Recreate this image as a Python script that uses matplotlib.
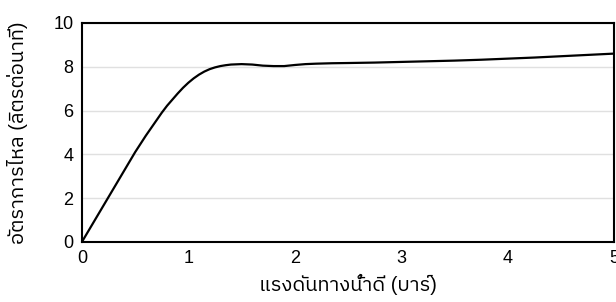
import numpy as np
import matplotlib.pyplot as plt
from matplotlib import font_manager

# pressure (bar) vs flow rate (litres per minute)
pressure = [0, 0.1, 0.2, 0.3, 0.4, 0.5, 0.6, 0.7, 0.75, 0.8, 0.85, 0.9, 0.95,
            1.0, 1.05, 1.1, 1.15, 1.2, 1.25, 1.3, 1.35, 1.4, 1.45, 1.5, 1.55,
            1.6, 1.7, 1.8, 1.9, 2.0, 2.1, 2.2, 2.35, 2.5, 2.75, 3.0,
            3.25, 3.5, 3.75, 4.0, 4.25, 4.5, 4.75, 5.0]
flow = [0, 0.82, 1.64, 2.46, 3.28, 4.1, 4.85, 5.55, 5.9, 6.22, 6.5, 6.78, 7.04,
        7.27, 7.47, 7.64, 7.78, 7.89, 7.97, 8.03, 8.07, 8.1, 8.11, 8.12, 8.11,
        8.1, 8.05, 8.03, 8.03, 8.08, 8.12, 8.14, 8.16, 8.17, 8.19, 8.22,
        8.25, 8.28, 8.32, 8.37, 8.42, 8.48, 8.54, 8.6]

xlabel = "แรงดันทางน้ำดี (บาร์)"
ylabel = "อัตราการไหล (ลิตรต่อนาที)"

# a family with Thai glyphs, used after Liberation Sans for the Thai text
thai = sorted(set(f.name for f in font_manager.fontManager.ttflist if "Thai" in f.name))
plt.rcParams['font.family'] = ['Liberation Sans'] + thai[:1] + ['DejaVu Sans']

fig = plt.figure(figsize=(6.16, 3.02), dpi=100)
ax = fig.add_axes([0.133, 0.199, 0.864, 0.725])
ax.plot(pressure, flow, color="black", lw=1.6)
ax.set_xlim(0, 5)
ax.set_ylim(0, 10)
ax.set_xticks(range(6))
ax.set_yticks(range(0, 11, 2))
ax.grid(axis="y", color="#e0e0e0", lw=1)
ax.set_axisbelow(True)
ax.tick_params(length=0, labelsize=13, pad=6)
for s in ax.spines.values():
    s.set_linewidth(1.5)
ax.set_xlabel(xlabel, fontsize=14.5, labelpad=5)
ax.set_ylabel(ylabel, fontsize=14.5, labelpad=18)
fig.savefig("out.png", dpi=100)
